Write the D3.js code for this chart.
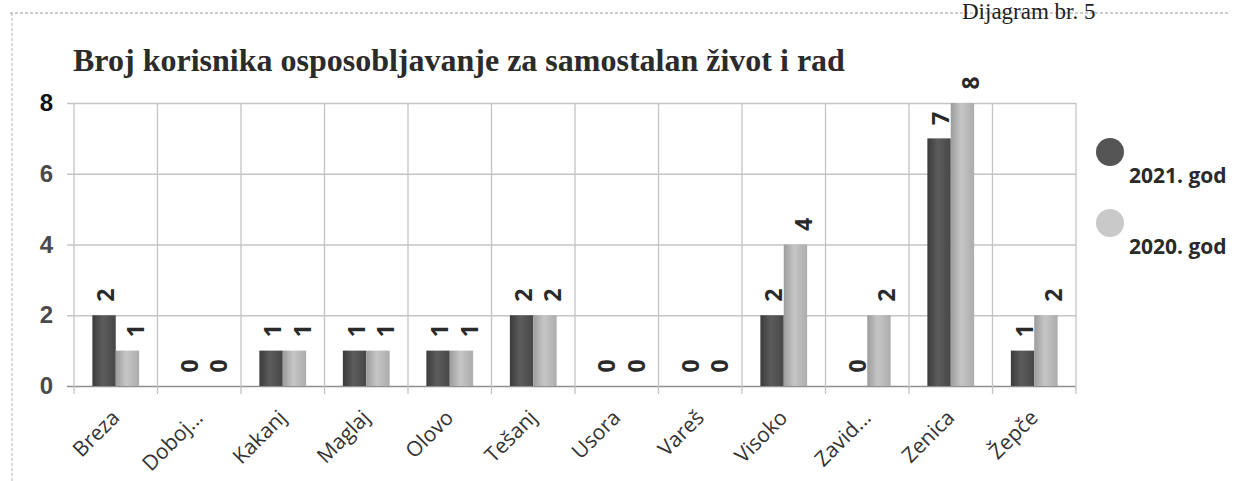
<!DOCTYPE html>
<html>
<head>
<meta charset="utf-8">
<script src="https://cdn.jsdelivr.net/npm/d3@7"></script>
<style>
  html, body { margin: 0; padding: 0; background: #fff; }
  #chart { width: 1234px; height: 481px; overflow: hidden; }
</style>
</head>
<body>
<div id="chart"></div>
<script>
const width  = 1234;
const height = 481;

// Data
const categories = ["Breza", "Doboj...", "Kakanj", "Maglaj", "Olovo", "Tešanj", "Usora", "Vareš", "Visoko", "Zavid...", "Zenica", "Žepče"];
const seriesNames = ["2021. god", "2020. god"];
const values2021 = [2, 0, 1, 1, 1, 2, 0, 0, 2, 0, 7, 1];
const values2020 = [1, 0, 1, 1, 1, 2, 0, 0, 4, 2, 8, 2];
const yTicks = [0, 2, 4, 6, 8];

const titleText = "Broj korisnika osposobljavanje za samostalan život i rad";
const captionText = "Dijagram br. 5";

const margin = { top: 103, left: 74, right: 158, bottom: 95 };
const plotW = width - margin.left - margin.right;
const plotH = height - margin.top - margin.bottom;

const svg = d3.select("#chart").append("svg")
    .attr("width", width)
    .attr("height", height)
    .style("font-family", "'Open Sans', sans-serif");

// gradients for the bars, a bit like the old Excel look
const defs = svg.append("defs");
const gradStops = [
  [["0%", "#3b3b3b"], ["45%", "#5c5c5c"], ["100%", "#474747"]],
  [["0%", "#9c9c9c"], ["45%", "#c6c6c6"], ["100%", "#acacac"]]
];
gradStops.forEach((stops, i) => {
  const g = defs.append("linearGradient")
      .attr("id", "grad" + i)
      .attr("x1", "0%").attr("x2", "100%").attr("y1", "0%").attr("y2", "0%");
  stops.forEach(s => g.append("stop").attr("offset", s[0]).attr("stop-color", s[1]));
});
const legendColour = ["#555555", "#c9c9c9"];

// scanned page border
svg.append("line")
    .attr("x1", 10).attr("x2", 1230).attr("y1", 13).attr("y2", 13)
    .attr("stroke", "#9a9a9a").attr("stroke-dasharray", "3,2");
svg.append("line")
    .attr("x1", 12).attr("x2", 12).attr("y1", 13).attr("y2", height)
    .attr("stroke", "#b5b5b5").attr("stroke-dasharray", "3,2");

svg.append("text")
    .attr("x", 962).attr("y", 19)
    .style("font-family", "'Liberation Serif', serif")
    .style("font-size", "23px")
    .attr("fill", "#222")
    .text(captionText);

svg.append("text")
    .attr("x", 73).attr("y", 71)
    .style("font-family", "'Liberation Serif', serif")
    .style("font-weight", "bold")
    .style("font-size", "32px")
    .attr("fill", "#2b2b2b")
    .text(titleText);

const g = svg.append("g")
    .attr("transform", "translate(" + margin.left + "," + margin.top + ")");

const x = d3.scaleBand()
    .domain(categories)
    .range([0, plotW])
    .paddingInner(0)
    .paddingOuter(0);

const bw = x.bandwidth();
const xSeries = d3.scaleBand()
    .domain([0, 1])
    .range([bw * 0.22, bw * 0.78]);

const y = d3.scaleLinear()
    .domain([0, 8])
    .range([plotH, 0]);

// horizontal gridlines + y labels
const yAxis = g.append("g")
    .call(d3.axisLeft(y).tickValues(yTicks).tickSize(-plotW - 7).tickSizeOuter(0).tickPadding(14))
    .attr("transform", "translate(-7,0)");
yAxis.select(".domain").remove();
yAxis.selectAll(".tick line")
    .attr("x1", 0)
    .attr("x2", plotW + 7)
    .attr("stroke", (d) => d === 0 ? "#8f8f8f" : "#c4c4c4")
    .attr("stroke-width", 1.3);
yAxis.selectAll(".tick text")
    .style("font-size", "24px")
    .style("font-weight", (d) => d === 8 ? "bold" : "600")
    .attr("fill", (d) => d === 8 ? "#111" : "#4a4a4a");

// vertical gridlines at category boundaries
const bounds = categories.map(c => x(c)).concat([plotW]);
g.append("g").selectAll("line")
    .data(bounds).enter()
    .append("line")
      .attr("x1", d => d).attr("x2", d => d)
      .attr("y1", 0).attr("y2", plotH + 8)
      .attr("stroke", "#c4c4c4")
      .attr("stroke-width", 1.3);

// bars
const seriesData = [values2021, values2020];
const groups = g.append("g").selectAll("g")
    .data(seriesData).enter()
    .append("g")
      .attr("fill", (d, i) => "url(#grad" + i + ")");

groups.selectAll("rect")
    .data((d, i) => d.map((v, j) => ({ v: v, cat: categories[j], s: i })))
    .enter()
    .append("rect")
      .attr("x", d => x(d.cat) + xSeries(d.s))
      .attr("y", d => y(d.v))
      .attr("width", xSeries.bandwidth())
      .attr("height", d => plotH - y(d.v));

// rotated value labels
const labelShift = [2, 8];
groups.selectAll("text")
    .data((d, i) => d.map((v, j) => ({ v: v, cat: categories[j], s: i })))
    .enter()
    .append("text")
      .attr("transform", d => "translate(" + (x(d.cat) + xSeries(d.s) + xSeries.bandwidth() / 2 + labelShift[d.s]) + "," + (y(d.v) - 20) + ") rotate(-90)")
      .attr("text-anchor", "middle")
      .attr("dy", "0.35em")
      .attr("fill", "#2a2a2a")
      .style("font-size", "23px")
      .style("font-weight", "bold")
      .text(d => d.v);

// x labels
g.append("g").selectAll("text")
    .data(categories).enter()
    .append("text")
      .attr("transform", d => "translate(" + (x(d) + bw / 2 + 5) + "," + (plotH + 33) + ") rotate(-45)")
      .attr("text-anchor", "end")
      .attr("fill", "#333")
      .style("font-size", "21px")
      .text(d => d);

// legend
const legend = svg.append("g").selectAll("g")
    .data(seriesNames).enter()
    .append("g")
      .attr("transform", (d, i) => "translate(1110," + (152 + i * 71) + ")");
legend.append("circle")
    .attr("r", 14)
    .attr("fill", (d, i) => legendColour[i]);
legend.append("text")
    .attr("x", 19).attr("y", 31)
    .attr("fill", "#2a2a2a")
    .style("font-size", "21px")
    .style("font-weight", "bold")
    .text(d => d);
</script>
</body>
</html>
